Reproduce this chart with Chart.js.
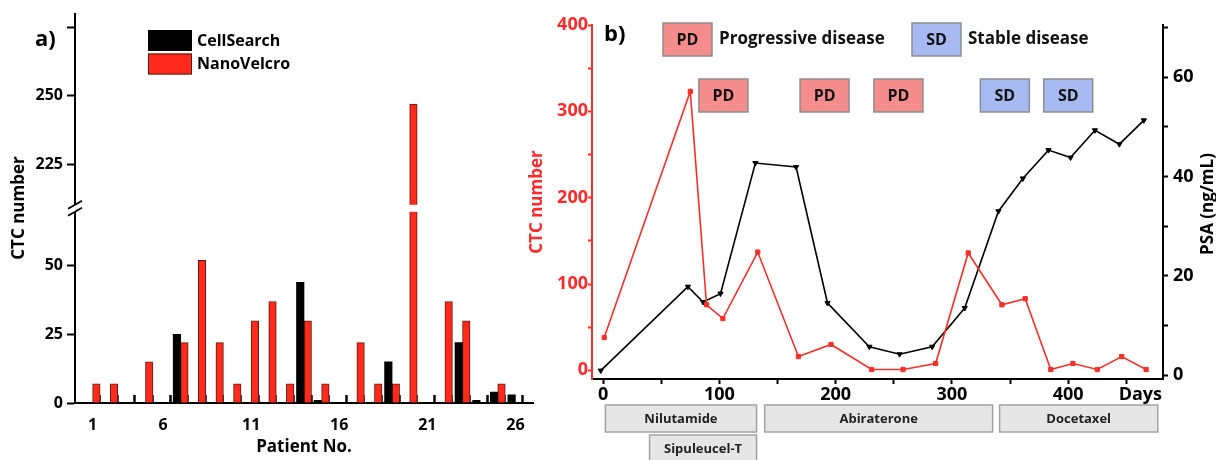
<!DOCTYPE html>
<html><head><meta charset="utf-8">
<script src="https://cdn.jsdelivr.net/npm/chart.js@4/dist/chart.umd.min.js"></script>
<style>
html,body{margin:0;padding:0;background:#fff;}
#wrap{position:relative;width:1216px;height:460px;overflow:hidden;}
#ca{position:absolute;left:0;top:0;}
#cb{position:absolute;left:515px;top:0;}
</style></head><body>
<div id="wrap"><canvas id="ca" width="545" height="460"></canvas><canvas id="cb" width="701" height="460"></canvas></div>
<script>
// ---------- Panel a data ----------
const slots = [1,2,3,4,5,6,7,8,9,10,11,12,13,14,15,16,17,18,19,20,21,22,23,24,25];
const cellSearch = [0,0,0,0,0,25,0,0,0,0,0,0,44,1,0,0,0,15,0,0,0,22,1,4,3];
const nanoVelcro = [7,7,0,15,0,22,52,22,7,30,37,7,30,7,0,22,7,7,247,0,37,30,0,7,0];
const patientTickPos = [1,5,10,15,20,25];
const patientTickLabels = ['1','6','11','16','21','26'];
const lowTicks = [0,25,50];
const lowTickLabels = ['0','25','50'];
const highTicks = [225,250,275];
const highTickLabels = ['225','250',''];
const LOW_MIN = 0, LOW_MAX = 71, HIGH_MIN = 209, HIGH_MAX = 280;

// ---------- Panel b data ----------
const ctcDays   = [1, 75, 89, 103, 133, 168, 196, 231, 258, 286, 314, 343, 363, 385, 404, 425, 446, 467];
const ctcValues = [38, 323, 76, 60, 137, 16, 30, 1, 1, 8, 136, 76, 83, 1, 8, 1, 16, 1];
const psaDays   = [-2, 73, 86, 101, 131, 166, 193, 229, 255, 283, 311, 340, 361, 383, 402, 423, 444, 465];
const psaValues = [0.9, 17.8, 14.7, 16.4, 42.7, 41.9, 14.5, 5.7, 4.2, 5.7, 13.5, 33, 39.6, 45.3, 43.8, 49.3, 46.5, 51.3];
const dayTicks = [0,50,100,150,200,250,300,350,400,450];
const dayTickLabels = ['0','','100','','200','','300','','400',''];
const DAYS_LABEL_POS = 462;
const ctcTicks = [0,50,100,150,200,250,300,350,400];
const ctcTickLabels = ['0','','100','','200','','300','','400'];
const psaTicks = [0,10,20,30,40,50,60,70];
const psaTickLabels = ['0','','20','','40','','60',''];
const statusLabels = ['PD','PD','PD','SD','SD'];
const statusDays = [103.5, 190.5, 254, 345.5, 400];
const treatNames = ['Nilutamide','Sipuleucel-T','Abiraterone','Docetaxel'];
const treatStart = [2, 40, 139, 341];
const treatEnd = [132, 132, 335, 477];
const treatRow = [0, 1, 0, 0];

// ---------- styles ----------
const FAM = "'Open Sans', 'DejaVu Sans', sans-serif";
const RED = '#f5302a';
const RED_TXT = '#ff2a2a';
const BAR_RED = '#ff2a1c';
const BAR_RED_BORDER = '#5e1a12';
const PD_FILL = '#f58d8c', SD_FILL = '#a6b9f1', BOX_BORDER = '#8d8d8d';
const TREAT_FILL = '#e6e6e6', TREAT_BORDER = '#a2a2a2';
function f(size){ return {family: FAM, size: size, weight: 'bold'}; }

// ---------- Panel a ----------
const panelAExtras = {
  id: 'panelAExtras',
  afterDatasetsDraw(chart) {
    const ctx = chart.ctx, ca = chart.chartArea;
    const b = (chart.scales.yLow.top + chart.scales.yHigh.bottom) / 2;
    ctx.save();
    ctx.fillStyle = '#fff';
    ctx.fillRect(ca.left - 10, b - 3.5, ca.right - ca.left + 12, 7);
    ctx.strokeStyle = '#000'; ctx.lineWidth = 1.8;
    for (const dy of [-3.5, 3.5]) {
      ctx.beginPath(); ctx.moveTo(ca.left - 7, b + dy + 4); ctx.lineTo(ca.left + 7, b + dy - 4); ctx.stroke();
    }
    ctx.restore();
  },
  afterDraw(chart) {
    const ctx = chart.ctx;
    ctx.save();
    const names = ['CellSearch','NanoVelcro'];
    const fills = ['#000', BAR_RED];
    for (let i = 0; i < 2; i++) {
      const y = 30 + i * 23.5;
      ctx.fillStyle = fills[i]; ctx.fillRect(148, y, 44, 21);
      ctx.strokeStyle = i ? BAR_RED_BORDER : '#000'; ctx.lineWidth = 1; ctx.strokeRect(148.5, y + 0.5, 43, 20);
      ctx.fillStyle = '#000'; ctx.font = 'bold 16px ' + FAM; ctx.textAlign = 'left'; ctx.textBaseline = 'middle';
      ctx.fillText(names[i], 197, y + 11);
    }
    ctx.font = 'bold 22px ' + FAM; ctx.fillText('a)', 35, 40);
    ctx.translate(19, 208); ctx.rotate(-Math.PI / 2);
    ctx.textAlign = 'center'; ctx.font = 'bold 17px ' + FAM;
    ctx.fillText('CTC number', 0, 0);
    ctx.restore();
  }
};

const tickMarkShift = 0.4;
const aTicks = slots.map(s => s + tickMarkShift).concat(patientTickPos).sort((p, q) => p - q);
const BAR_W = 7.5;

new Chart(document.getElementById('ca'), {
  type: 'bar',
  data: {
    datasets: [
      {label: 'CellSearch', data: slots.map((x, i) => ({x: x, y: cellSearch[i]})), backgroundColor: '#000', borderWidth: 0, yAxisID: 'yLow', stack: 'cs'},
      {label: 'NanoVelcro', data: slots.map((x, i) => ({x: x, y: Math.min(nanoVelcro[i], LOW_MAX)})), backgroundColor: BAR_RED, borderColor: BAR_RED_BORDER, borderWidth: 1, yAxisID: 'yLow', stack: 'nv'},
      {label: 'NanoVelcro upper', data: slots.map((x, i) => ({x: x, y: nanoVelcro[i] > HIGH_MIN ? nanoVelcro[i] : null})), backgroundColor: BAR_RED, borderColor: BAR_RED_BORDER, borderWidth: 1, yAxisID: 'yHigh', stack: 'nv'}
    ]
  },
  options: {
    responsive: false, animation: false,
    barThickness: BAR_W,
    layout: {padding: {left: 0, right: 12, top: 13, bottom: 0}},
    plugins: {legend: {display: false}, tooltip: {enabled: false}},
    scales: {
      x: {
        type: 'linear', min: 0, max: 26, offset: false, z: 1,
        afterBuildTicks: s => { s.ticks = aTicks.map(v => ({value: v})); },
        ticks: {autoSkip: false, maxRotation: 0, padding: 21, color: '#000', font: f(16),
          callback: v => { const k = patientTickPos.indexOf(v); return k >= 0 ? patientTickLabels[k] : ''; }},
        grid: {drawOnChartArea: false, offset: false, tickLength: -8, tickWidth: 2.5,
          tickColor: c => (c.tick && patientTickPos.indexOf(c.tick.value) >= 0) ? 'rgba(0,0,0,0)' : '#000'},
        border: {color: '#000', width: 2},
        title: {display: true, text: 'Patient No.', color: '#000', font: f(17), padding: {top: 0, bottom: 3}},
        afterFit: s => { s.height = 57; }
      },
      yLow: {
        type: 'linear', position: 'left', stack: 'a', stackWeight: 1, min: LOW_MIN, max: LOW_MAX,
        afterBuildTicks: s => { s.ticks = lowTicks.map(v => ({value: v})); },
        ticks: {color: '#000', font: f(16), padding: 4, callback: v => lowTickLabels[lowTicks.indexOf(v)]},
        grid: {drawOnChartArea: false, tickLength: 8, tickWidth: 2, tickColor: '#000'},
        border: {color: '#000', width: 2},
        afterFit: s => { s.width = 75; }
      },
      yHigh: {
        type: 'linear', position: 'left', stack: 'a', stackWeight: 1, min: HIGH_MIN, max: HIGH_MAX,
        afterBuildTicks: s => { s.ticks = highTicks.map(v => ({value: v})); },
        ticks: {color: '#000', font: f(16), padding: 4, callback: v => highTickLabels[highTicks.indexOf(v)]},
        grid: {drawOnChartArea: false, tickLength: 8, tickWidth: 2, tickColor: '#000'},
        border: {color: '#000', width: 2},
        afterFit: s => { s.width = 75; }
      }
    }
  },
  plugins: [panelAExtras]
});

// ---------- Panel b ----------
function drawBox(ctx, x, y, w, h, fill, stroke) {
  ctx.fillStyle = fill; ctx.fillRect(x, y, w, h);
  ctx.strokeStyle = stroke; ctx.lineWidth = 1.5; ctx.strokeRect(x, y, w, h);
}
const panelBExtras = {
  id: 'panelBExtras',
  afterDraw(chart) {
    const ctx = chart.ctx, ca = chart.chartArea, xs = chart.scales.x;
    ctx.save();
    ctx.textBaseline = 'middle';
    ctx.fillStyle = '#000'; ctx.textAlign = 'left'; ctx.font = 'bold 22px ' + FAM;
    ctx.fillText('b)', ca.left + 12, ca.top + 10);
    const BW = 49, BH = 33;
    const legItems = [['PD', 'Progressive disease', PD_FILL, 71], ['SD', 'Stable disease', SD_FILL, 320]];
    for (const it of legItems) {
      const x = ca.left + it[3], y = ca.top - 2;
      drawBox(ctx, x, y, BW, BH, it[2], BOX_BORDER);
      ctx.fillStyle = '#111'; ctx.textAlign = 'center'; ctx.font = 'bold 16px ' + FAM;
      ctx.fillText(it[0], x + BW / 2, y + BH / 2 + 1);
      ctx.textAlign = 'left'; ctx.font = 'bold 17px ' + FAM;
      ctx.fillText(it[1], x + BW + 7, y + BH / 2);
    }
    for (let i = 0; i < statusLabels.length; i++) {
      const cx = xs.getPixelForValue(statusDays[i]), y = ca.top + 54;
      drawBox(ctx, cx - BW / 2, y, BW, BH, statusLabels[i] === 'PD' ? PD_FILL : SD_FILL, BOX_BORDER);
      ctx.fillStyle = '#111'; ctx.textAlign = 'center'; ctx.font = 'bold 16px ' + FAM;
      ctx.fillText(statusLabels[i], cx, y + BH / 2 + 1);
    }
    for (let i = 0; i < treatNames.length; i++) {
      const x0 = xs.getPixelForValue(treatStart[i]), x1 = xs.getPixelForValue(treatEnd[i]);
      const y = ca.bottom + 26 + treatRow[i] * 30;
      drawBox(ctx, x0, y, x1 - x0, 27, TREAT_FILL, TREAT_BORDER);
      ctx.fillStyle = '#222'; ctx.textAlign = 'center'; ctx.font = 'bold 13px ' + FAM;
      ctx.fillText(treatNames[i], (x0 + x1) / 2, y + 14);
    }
    ctx.fillStyle = '#000'; ctx.font = 'bold 17px ' + FAM;
    ctx.translate(693, (ca.top + ca.bottom) / 2 + 2); ctx.rotate(-Math.PI / 2);
    ctx.textAlign = 'center'; ctx.fillText('PSA (ng/mL)', 0, 0);
    ctx.restore();
  }
};

new Chart(document.getElementById('cb'), {
  type: 'line',
  data: {
    datasets: [
      {label: 'CTC number', data: ctcDays.map((d, i) => ({x: d, y: ctcValues[i]})), yAxisID: 'yCTC',
        borderColor: RED, backgroundColor: RED, borderWidth: 1.6, pointStyle: 'rect', pointRadius: 3, pointBorderWidth: 1, tension: 0},
      {label: 'PSA', data: psaDays.map((d, i) => ({x: d, y: psaValues[i]})), yAxisID: 'yPSA',
        borderColor: '#000', backgroundColor: '#000', borderWidth: 1.6, pointStyle: 'triangle', pointRotation: 180, pointRadius: 3, pointBorderWidth: 1, tension: 0}
    ]
  },
  options: {
    responsive: false, animation: false,
    layout: {padding: {left: 0, right: 0, top: 25, bottom: 0}},
    plugins: {legend: {display: false}, tooltip: {enabled: false}},
    scales: {
      x: {
        type: 'linear', min: -9.5, max: 481.5,
        afterBuildTicks: s => { s.ticks = dayTicks.concat([DAYS_LABEL_POS]).map(v => ({value: v})); },
        ticks: {autoSkip: false, maxRotation: 0, padding: 0, color: '#000', font: f(18),
          callback: v => v === DAYS_LABEL_POS ? 'Days' : dayTickLabels[dayTicks.indexOf(v)]},
        grid: {drawOnChartArea: false, tickLength: 5, tickWidth: 2,
          tickColor: c => (c.tick && c.tick.value === DAYS_LABEL_POS) ? 'rgba(0,0,0,0)' : '#000'},
        border: {color: '#000', width: 2},
        afterFit: s => { s.height = 81; }
      },
      yCTC: {
        type: 'linear', position: 'left', min: -10, max: 400,
        afterBuildTicks: s => { s.ticks = ctcTicks.map(v => ({value: v})); },
        ticks: {color: RED_TXT, font: f(18), padding: 0, callback: v => ctcTickLabels[ctcTicks.indexOf(v)]},
        grid: {drawOnChartArea: false, tickLength: 4, tickWidth: 2, tickColor: RED},
        border: {color: RED, width: 2},
        title: {display: true, text: 'CTC number', color: RED_TXT, font: f(17), padding: {top: 12, bottom: 0}},
        afterFit: s => { s.width = 77; }
      },
      yPSA: {
        type: 'linear', position: 'right', min: -0.8, max: 70.5,
        afterBuildTicks: s => { s.ticks = psaTicks.map(v => ({value: v})); },
        ticks: {color: '#000', font: f(18), padding: 5, callback: v => psaTickLabels[psaTicks.indexOf(v)]},
        grid: {drawOnChartArea: false, tickLength: 5, tickWidth: 2, tickColor: '#000'},
        border: {color: '#000', width: 2},
        afterFit: s => { s.width = 53; }
      }
    }
  },
  plugins: [panelBExtras]
});
</script>
</body></html>
